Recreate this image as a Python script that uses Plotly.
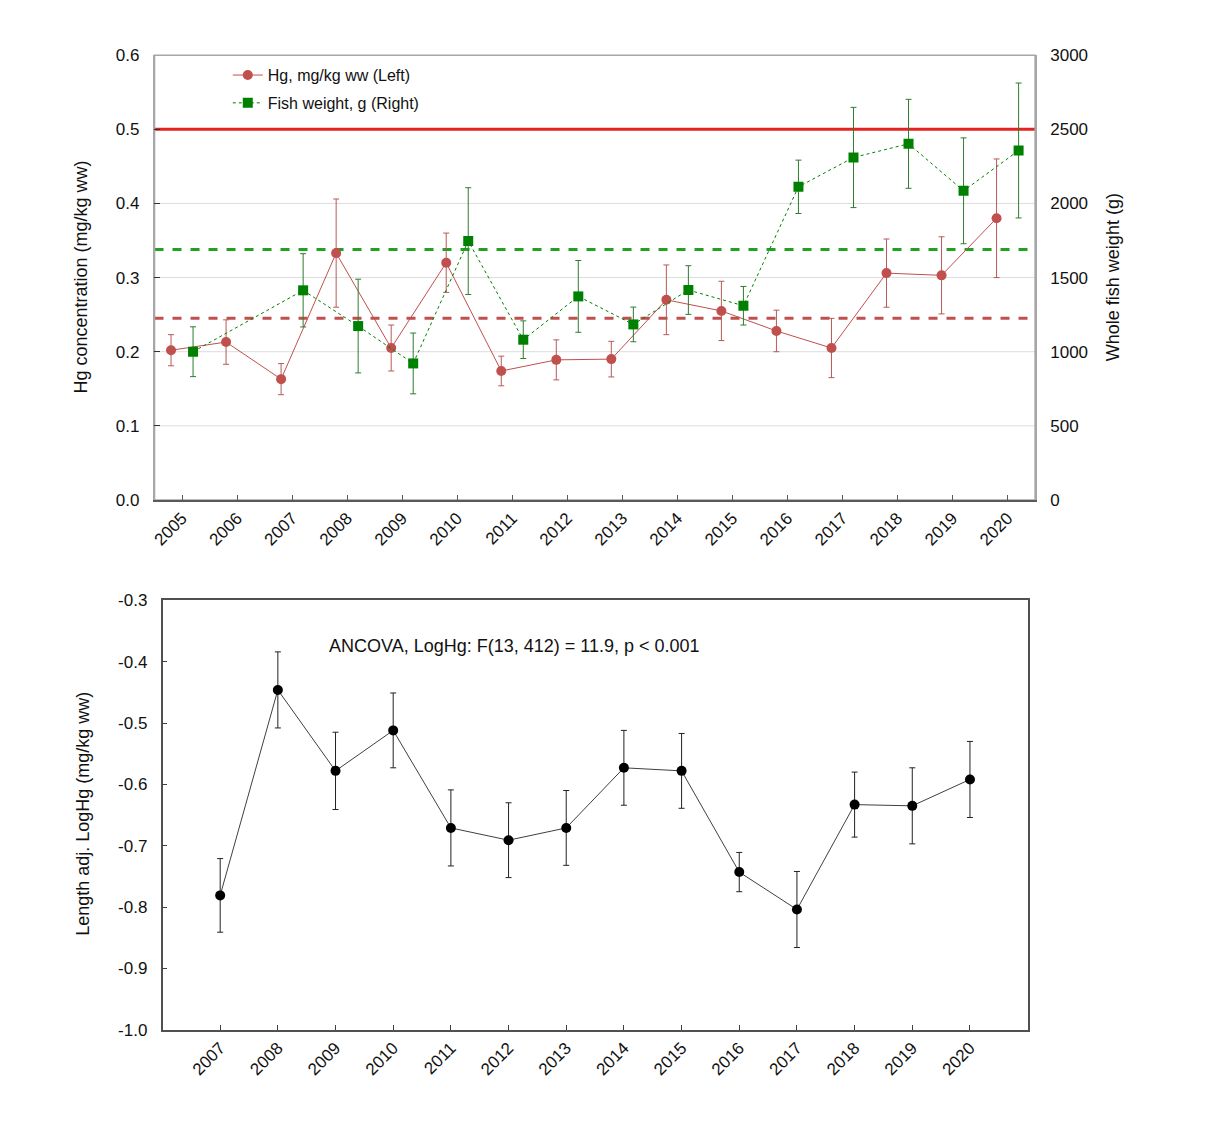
import plotly.graph_objects as go

# ---------------- data ----------------
years_top = [2005, 2006, 2007, 2008, 2009, 2010, 2011, 2012, 2013, 2014, 2015, 2016, 2017, 2018, 2019, 2020]
hg_conc = [0.202, 0.213, 0.163, 0.333, 0.205, 0.320, 0.174, 0.189, 0.190, 0.270, 0.255, 0.228, 0.205, 0.306, 0.303, 0.380]
hg_err = [0.021, 0.030, 0.021, 0.073, 0.031, 0.040, 0.020, 0.027, 0.024, 0.047, 0.040, 0.028, 0.040, 0.046, 0.052, 0.080]

fish_years = [2005, 2007, 2008, 2009, 2010, 2011, 2012, 2013, 2014, 2015, 2016, 2017, 2018, 2019, 2020]
fish_weight = [1000, 1414, 1173, 921, 1746, 1081, 1373, 1184, 1416, 1310, 2112, 2310, 2402, 2085, 2357]
fish_err = [168, 247, 316, 205, 360, 127, 242, 117, 164, 130, 180, 338, 300, 357, 455]

hg_limit = 0.5          # left axis
hg_mean = 0.245         # left axis
weight_mean = 1690      # right axis

years_bottom = [2007, 2008, 2009, 2010, 2011, 2012, 2013, 2014, 2015, 2016, 2017, 2018, 2019, 2020]
loghg_adj = [-0.781, -0.446, -0.578, -0.512, -0.671, -0.691, -0.671, -0.573, -0.578, -0.743, -0.804, -0.633, -0.635, -0.592]
loghg_err = [0.060, 0.062, 0.063, 0.061, 0.062, 0.061, 0.061, 0.061, 0.061, 0.032, 0.062, 0.053, 0.062, 0.062]

top_ticks = [str(y) for y in years_top]
bottom_ticks = [str(y) for y in years_bottom]
left_ticks_vals = [0.0, 0.1, 0.2, 0.3, 0.4, 0.5, 0.6]
left_ticks_text = ["0.0", "0.1", "0.2", "0.3", "0.4", "0.5", "0.6"]
left_grid_vals = [0.1, 0.2, 0.3, 0.4]
right_ticks_vals = [0, 500, 1000, 1500, 2000, 2500, 3000]
bottom_y_vals = [-1.0, -0.9, -0.8, -0.7, -0.6, -0.5, -0.4, -0.3]
bottom_y_text = ["-1.0", "-0.9", "-0.8", "-0.7", "-0.6", "-0.5", "-0.4", "-0.3"]
annot_text = "ANCOVA, LogHg: F(13, 412) = 11.9, p < 0.001"
title_left = "Hg concentration (mg/kg ww)"
title_right = "Whole fish weight (g)"
title_bottom = "Length adj. LogHg (mg/kg ww)"

# ---------------- style ----------------
FONT = "Liberation Sans, Arial, sans-serif"
HG_COL = "#c0504d"
FISH_COL = "#008000"
TXT = "#111111"
W, H = 1210, 1129
OX, OY, SY = 9.0, 16.8, 0.9846   # page offset / scale compensation
offset = 0.2


def px_x(t):
    return (t - OX) / W


def px_y(t):
    return 1 - ((t - OY) / SY) / H


fig = go.Figure()

fig.add_trace(go.Scatter(
    x=[y - offset for y in years_top], y=hg_conc,
    error_y=dict(type="data", array=hg_err, color="#b85a58", thickness=1, width=3),
    mode="lines+markers", name="Hg, mg/kg ww (Left)", legendgroup="a",
    line=dict(color=HG_COL, width=1),
    marker=dict(symbol="circle", size=10, color=HG_COL),
    xaxis="x", yaxis="y",
))
fig.add_trace(go.Scatter(
    x=[y + offset for y in fish_years], y=fish_weight,
    error_y=dict(type="data", array=fish_err, color="#2e7d2e", thickness=1, width=3),
    mode="lines+markers", name="Fish weight, g (Right)", legendgroup="b",
    line=dict(color=FISH_COL, width=1, dash="dot"),
    marker=dict(symbol="square", size=10, color=FISH_COL),
    xaxis="x", yaxis="y2",
))

fig.add_trace(go.Scatter(
    x=years_bottom, y=loghg_adj,
    error_y=dict(type="data", array=loghg_err, color="#222222", thickness=1, width=3),
    mode="lines+markers", showlegend=False,
    line=dict(color="#404040", width=1),
    marker=dict(symbol="circle", size=10, color="#000000"),
    xaxis="x3", yaxis="y3",
))

# grid lines (drawn as shapes beneath the reference lines)
for gv in left_grid_vals:
    fig.add_shape(type="line", xref="x domain", yref="y", x0=0, x1=1, y0=gv, y1=gv,
                  line=dict(color="#dcdcdc", width=1), layer="below")

# reference lines
fig.add_shape(type="line", xref="x domain", yref="y", x0=0, x1=1, y0=hg_mean, y1=hg_mean,
              line=dict(color=HG_COL, width=3, dash="dash"), layer="below")
fig.add_shape(type="line", xref="x domain", yref="y2", x0=0, x1=1, y0=weight_mean, y1=weight_mean,
              line=dict(color="#22a022", width=3, dash="dash"), layer="below")
fig.add_shape(type="line", xref="x domain", yref="y", x0=0, x1=1, y0=hg_limit, y1=hg_limit,
              line=dict(color="#e42222", width=3), layer="below")

# top frame
fig.add_shape(type="rect", xref="paper", yref="paper",
              x0=px_x(152), x1=px_x(1035.5), y0=px_y(500.5), y1=px_y(55),
              line=dict(color="#a6a6a6", width=1.5), layer="below")

fig.add_annotation(text=annot_text, xref="x3", yref="paper", x=2008.85, y=px_y(647),
                   xanchor="left", yanchor="middle", showarrow=False,
                   font=dict(family=FONT, size=18, color=TXT))

titlefont = dict(family=FONT, size=18, color=TXT)
fig.add_annotation(text=title_left, xref="paper", yref="paper", x=px_x(78), y=px_y(277),
                   textangle=-90, showarrow=False, xanchor="center", yanchor="middle", font=titlefont)
fig.add_annotation(text=title_right, xref="paper", yref="paper", x=px_x(1113), y=px_y(277),
                   textangle=-90, showarrow=False, xanchor="center", yanchor="middle", font=titlefont)
fig.add_annotation(text=title_bottom, xref="paper", yref="paper", x=px_x(80), y=px_y(815),
                   textangle=-90, showarrow=False, xanchor="center", yanchor="middle", font=titlefont)

tickfont = dict(family=FONT, size=17, color=TXT)

fig.update_layout(
    width=W, height=H,
    margin=dict(l=0, r=0, t=0, b=0),
    paper_bgcolor="white", plot_bgcolor="white",
    font=dict(family=FONT, size=16, color=TXT),
    legend=dict(x=px_x(225.5), y=px_y(58), xanchor="left", yanchor="top",
                bgcolor="rgba(0,0,0,0)", font=dict(family=FONT, size=16, color=TXT),
                itemwidth=30, traceorder="grouped", tracegroupgap=4),
    xaxis=dict(domain=[px_x(152), px_x(1035.5)], range=[2004.5, 2020.5],
               tickmode="array", tickvals=years_top, ticktext=top_ticks, tickangle=-45,
               ticks="inside", ticklen=5, tickcolor="#595959",
               showline=True, linecolor="#595959", linewidth=1.5,
               showgrid=False, zeroline=False, tickfont=tickfont, anchor="y"),
    yaxis=dict(domain=[px_y(500.5), px_y(55)], range=[0, 0.6],
               tickmode="array", tickvals=left_ticks_vals, ticktext=left_ticks_text,
               ticks="inside", ticklen=6, tickcolor="#333333",
               showline=True, linecolor="#a6a6a6", linewidth=1.5,
               showgrid=False, zeroline=False,
               tickfont=tickfont, ticklabelstandoff=10, anchor="x"),
    yaxis2=dict(range=[0, 3000], tickmode="array", tickvals=right_ticks_vals,
                overlaying="y", side="right", anchor="x",
                showgrid=False, zeroline=False, showline=True, linecolor="#a6a6a6", linewidth=1.5,
                ticks="", tickfont=tickfont, ticklabelstandoff=10),
    xaxis3=dict(domain=[px_x(160), px_x(1028)], range=[2006, 2021],
                tickmode="array", tickvals=years_bottom, ticktext=bottom_ticks, tickangle=-45,
                ticks="inside", ticklen=5, tickcolor="#404040",
                showline=True, linecolor="#505050", linewidth=1.5, mirror=True,
                showgrid=False, zeroline=False, tickfont=tickfont, anchor="y3"),
    yaxis3=dict(domain=[px_y(1031), px_y(601)], range=[-1.0, -0.3],
                tickmode="array", tickvals=bottom_y_vals, ticktext=bottom_y_text,
                ticks="inside", ticklen=5, tickcolor="#404040",
                showline=True, linecolor="#505050", linewidth=1.5, mirror=True,
                showgrid=False, zeroline=False, tickfont=tickfont, ticklabelstandoff=10,
                anchor="x3"),
)

fig.write_html("out.html")
